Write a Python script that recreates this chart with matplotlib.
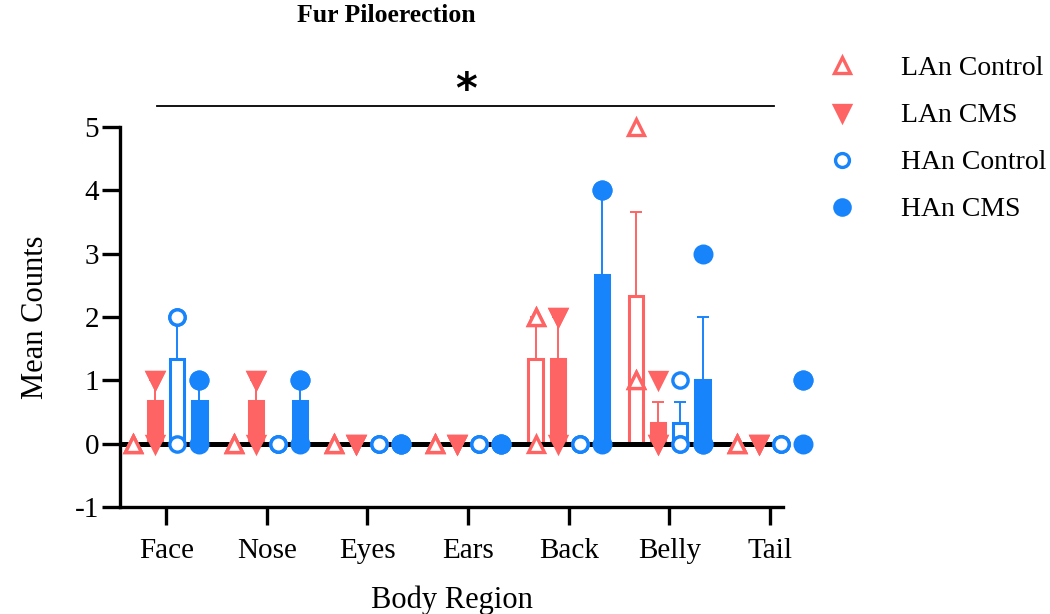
import numpy as np
import matplotlib
matplotlib.use('Agg')
import matplotlib.pyplot as plt
from matplotlib.lines import Line2D

plt.rcParams['font.family'] = ['Liberation Serif', 'DejaVu Serif']
plt.rcParams['axes.unicode_minus'] = False

regions = ['Face', 'Nose', 'Eyes', 'Ears', 'Back', 'Belly', 'Tail']

# group means, SEM and the individual animals (n = 3)
lan_ctrl_mean = [0, 0, 0, 0, 1.33, 2.33, 0]
lan_ctrl_sem = [0, 0, 0, 0, 0.67, 1.33, 0]
lan_ctrl_pts = [[0, 0, 0], [0, 0, 0], [0, 0, 0], [0, 0, 0], [2, 2, 0], [5, 1, 1], [0, 0, 0]]

lan_cms_mean = [0.67, 0.67, 0, 0, 1.33, 0.33, 0]
lan_cms_sem = [0.33, 0.33, 0, 0, 0.67, 0.33, 0]
lan_cms_pts = [[1, 1, 0], [1, 1, 0], [0, 0, 0], [0, 0, 0], [2, 2, 0], [1, 0, 0], [0, 0, 0]]

han_ctrl_mean = [1.33, 0, 0, 0, 0, 0.33, 0]
han_ctrl_sem = [0.67, 0, 0, 0, 0, 0.33, 0]
han_ctrl_pts = [[2, 2, 0], [0, 0, 0], [0, 0, 0], [0, 0, 0], [0, 0, 0], [1, 0, 0], [0, 0, 0]]

han_cms_mean = [0.67, 0.67, 0, 0, 2.67, 1.0, 0.67]
han_cms_sem = [0.33, 0.33, 0, 0, 1.33, 1.0, 0.33]
han_cms_pts = [[1, 1, 0], [1, 1, 0], [0, 0, 0], [0, 0, 0], [4, 4, 0], [3, 0, 0], [1, 1, 0]]

red = '#FF6464'
blue = '#1784FB'

groups = [
    ('LAn Control', lan_ctrl_mean, lan_ctrl_sem, lan_ctrl_pts, red, '^', False, -0.33),
    ('LAn CMS', lan_cms_mean, lan_cms_sem, lan_cms_pts, red, 'v', True, -0.11),
    ('HAn Control', han_ctrl_mean, han_ctrl_sem, han_ctrl_pts, blue, 'o', False, 0.11),
    ('HAn CMS', han_cms_mean, han_cms_sem, han_cms_pts, blue, 'o', True, 0.33),
]

fig = plt.figure(figsize=(10.5, 6.14), dpi=100)
ax = fig.add_axes([0.1143, 0.1743, 0.6314, 0.6189])

x = np.arange(len(regions))
bw = 0.14
handles = []
for name, mean, sem, pts, col, mk, filled, off in groups:
    xs = x + off
    mean = np.array(mean)
    ax.bar(xs, mean, width=bw, color=col if filled else 'white',
           edgecolor=col, linewidth=2.2, zorder=2)
    ax.errorbar(xs, mean, yerr=[np.zeros_like(mean), np.array(sem)], fmt='none',
                ecolor=col, elinewidth=1.4, capsize=4, capthick=1.4, zorder=3)
    px = np.repeat(xs, 3)
    py = np.array(pts).ravel()
    if mk in ('^', 'v'):
        ms = 12
    else:
        ms = 12 if filled else 11
    ax.plot(px, py, linestyle='none', marker=mk, markersize=ms,
            markerfacecolor=col if filled else 'white', markeredgecolor=col,
            markeredgewidth=2.4, zorder=5, clip_on=False)
    handles.append(Line2D([], [], linestyle='none', marker=mk, markersize=ms - 1,
                          markerfacecolor=col if filled else 'white',
                          markeredgecolor=col, markeredgewidth=2.4, label=name))

ax.axhline(0, color='black', linewidth=3.6, zorder=4)

ax.set_xlim(-0.46, 6.13)
ax.set_ylim(-1, 5)
ax.set_yticks(range(-1, 6))
ax.set_xticks(x)
ax.set_xticklabels(regions)
for s in ['top', 'right']:
    ax.spines[s].set_visible(False)
for s in ['left', 'bottom']:
    ax.spines[s].set_linewidth(2.4)
ax.tick_params(axis='both', length=13, width=2.4, labelsize=21, direction='out')
ax.tick_params(axis='x', pad=9)
ax.tick_params(axis='y', pad=2)
ax.set_xlabel('Body Region', fontsize=22, labelpad=16)
ax.set_ylabel('Mean Counts', fontsize=22, labelpad=18)

# significance bar
ax.plot([-0.09, 6.04], [5.33, 5.33], color='black', linewidth=1.3, clip_on=False)
ax.text(2.98, 5.57, '*', ha='center', va='center', fontsize=30, fontweight='bold',
        family='DejaVu Sans', clip_on=False)

fig.text(0.368, 0.975, 'Fur Piloerection', ha='center', va='center',
         fontsize=18.5, fontweight='bold')

fig.legend(handles=handles, loc='upper left', bbox_to_anchor=(0.758, 0.95),
           frameon=False, fontsize=20, handletextpad=1.4, labelspacing=0.78,
           handlelength=1.5)

fig.savefig('out.png', dpi=100)
